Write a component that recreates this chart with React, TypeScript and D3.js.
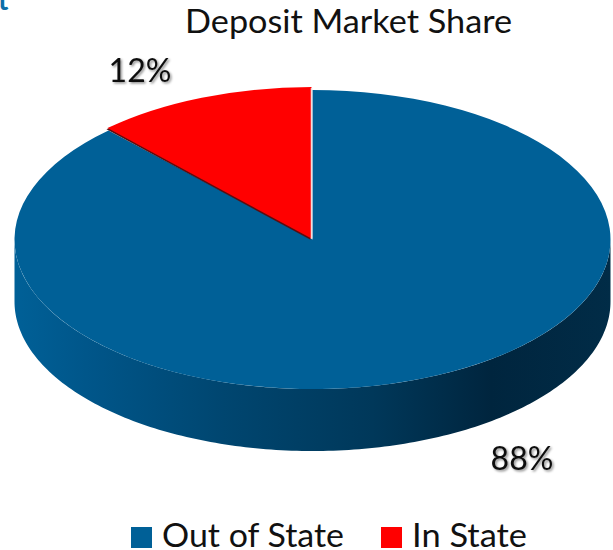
import React from "react";
import * as d3 from "d3";

const categories = ["Out of State", "In State"];
const shareValues = [88, 12];
const sliceColors = ["#006097", "#ff0000"];
const titleText = "Deposit Market Share";
const FONT = "Lato, 'Open Sans', sans-serif";

const cx = 312.5, cy = 239.5, rx = 298, ry = 149.5, depth = 62;

export default function App() {
  const pie = d3.pie<number>().sort(null).startAngle(0).endAngle(2 * Math.PI);
  const arcs = pie(shareValues);
  const arcGen = d3.arc<d3.PieArcDatum<number>>().innerRadius(0).outerRadius(rx);
  const ratio = ry / rx;
  const redLiftY = 1.013;

  const sweep = d3.range(Math.PI / 2, (3 * Math.PI) / 2 + 0.001, Math.PI / 180);
  const wall = d3
    .area<number>()
    .x((a) => cx + rx * Math.sin(a))
    .y0((a) => cy - ry * Math.cos(a))
    .y1((a) => cy - ry * Math.cos(a) + depth)(sweep) as string;

  const stops: [number, string][] = [
    [0, "#006097"],
    [0.12, "#00568a"],
    [0.35, "#004670"],
    [0.6, "#00385a"],
    [0.8, "#00253e"],
    [1, "#012c47"],
  ];

  return (
    <svg
      width={613}
      height={550}
      style={{ position: "absolute", left: 0, top: 0, background: "#fff" }}
      fontFamily={FONT}
    >
      <defs>
        <linearGradient id="wallGrad" gradientUnits="userSpaceOnUse" x1={cx - rx} x2={cx + rx} y1={0} y2={0}>
          {stops.map(([o, c]) => (
            <stop key={o} offset={o} stopColor={c} />
          ))}
        </linearGradient>
        <filter id="labelShadow" x="-20%" y="-20%" width="150%" height="150%">
          <feDropShadow dx={1.5} dy={1.5} stdDeviation={1.2} floodColor="#000" floodOpacity={0.45} />
        </filter>
      </defs>

      <text x={-2} y={10} fontSize={28} fontWeight={700} fill="#0b6ea8">t</text>

      <text x={348.5} y={33} textAnchor="middle" fontSize={32} fill="#111" textLength={327} lengthAdjust="spacingAndGlyphs">
        {titleText}
      </text>

      <path d={wall} fill="url(#wallGrad)" />

      <g transform={`translate(${cx},${cy}) scale(1,${ratio})`}>
        <path d={arcGen(arcs[0]) as string} fill={sliceColors[0]} />
      </g>
      <g transform={`translate(${cx - 1},${cy - 1}) scale(1,${ratio * redLiftY})`}>
        <path d={arcGen(arcs[1]) as string} fill="#5a0d10" transform="translate(-1,2.5)" />
        <path d={arcGen(arcs[1]) as string} fill={sliceColors[1]} />
      </g>
      <line x1={cx - 1} x2={cx - 1} y1={88} y2={238} stroke="#f3dada" strokeWidth={1.5} />

      <text x={140} y={82} textAnchor="middle" fontSize={32} fill="#111" filter="url(#labelShadow)">
        {shareValues[1]}%
      </text>
      <text x={522} y={470} textAnchor="middle" fontSize={32} fill="#111" filter="url(#labelShadow)">
        {shareValues[0]}%
      </text>

      <rect x={131} y={527} width={21} height={21} fill={sliceColors[0]} />
      <text x={162} y={547} fontSize={32} fill="#111" textLength={182} lengthAdjust="spacingAndGlyphs">
        {categories[0]}
      </text>
      <rect x={381} y={527} width={21} height={21} fill={sliceColors[1]} />
      <text x={412} y={547} fontSize={32} fill="#111" textLength={115} lengthAdjust="spacingAndGlyphs">
        {categories[1]}
      </text>
    </svg>
  );
}
